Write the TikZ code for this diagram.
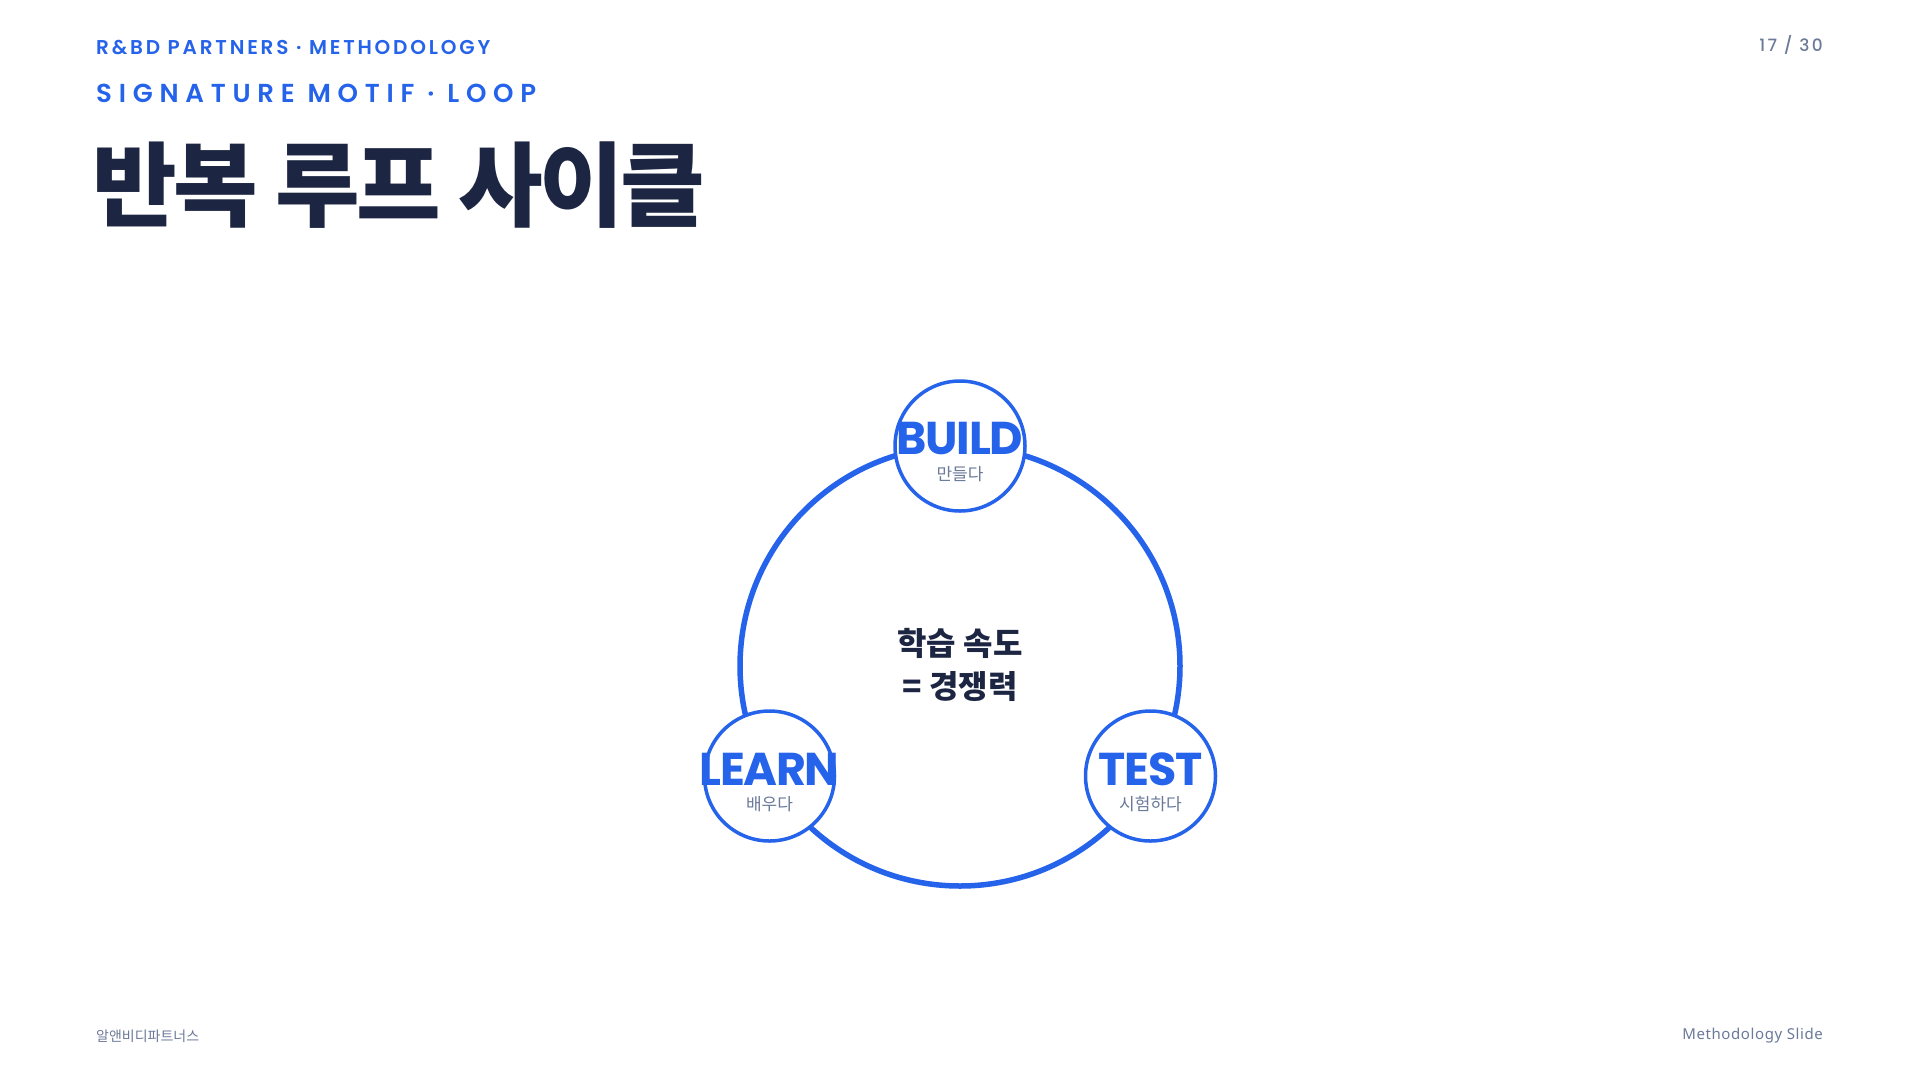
\documentclass[tikz,border=0pt]{standalone}
\usepackage{fontspec}
\setmainfont{Poppins}
\newfontfamily\hdrfont{Poppins SemiBold}[LetterSpace=14]
\newfontfamily\subfont{Poppins SemiBold}[LetterSpace=26]
\newfontfamily\pagefont{Poppins Medium}[LetterSpace=14]
\newfontfamily\labfont{Poppins Bold}[LetterSpace=-3]
\newfontfamily\krfont{Noto Sans CJK KR}
\newfontfamily\krheavy{Noto Sans CJK KR Black}
\newfontfamily\krblack{Noto Sans CJK KR Black}[LetterSpace=-4]
\newfontfamily\footfont{Noto Sans}[LetterSpace=4]
\definecolor{brand}{HTML}{2563EB}
\definecolor{ink}{HTML}{1C2541}
\definecolor{muted}{HTML}{6B7A99}
\tikzset{
  ring/.style={draw=brand, line width=5.5pt},
  stage/.style={circle, draw=brand, line width=3.5pt, fill=white, minimum size=130pt, inner sep=0pt},
  lab/.style={text=brand, font=\labfont\fontsize{46}{46}\selectfont, inner sep=0pt},
  sublab/.style={text=muted, font=\krfont\fontsize{17}{20}\selectfont, inner sep=0pt},
}
\begin{document}
\begin{tikzpicture}[x=1pt, y=-1pt]
\useasboundingbox (0,0) rectangle (1920,1080);
\fill[white] (0,0) rectangle (1920,1080);
% header
\node[anchor=west, inner sep=0, text=brand, font=\hdrfont\fontsize{20}{22}\selectfont] (hdr) at (96,47) {R\&BD PARTNERS · METHODOLOGY};
\node[anchor=west, inner sep=0, text=brand, font=\subfont\fontsize{26}{28}\selectfont] (motif) at (96,93) {SIGNATURE MOTIF · LOOP};
\node[anchor=west, inner sep=0, text=ink, font=\krblack\fontsize{92}{96}\selectfont] (title) at (92,185) {반복 루프 사이클};
\node[anchor=east, inner sep=0, text=muted, font=\pagefont\fontsize{17}{20}\selectfont] (page) at (1823,45) {17 / 30};
% ring
\coordinate (c) at (960,666);
\draw[ring] (c) circle[radius=220];
\node[stage] (build) at (960,446) {};
\node[stage] (learn) at (769.5,776) {};
\node[stage] (test) at (1150.5,776) {};
\node[lab] (buildt) at (960,439) {BUILD};
\node[sublab] (builds) at (960,474) {만들다};
\node[lab] (learnt) at (769.5,769) {LEARN};
\node[sublab] (learns) at (769.5,804) {배우다};
\node[lab] (testt) at (1150.5,769) {TEST};
\node[sublab] (tests) at (1150.5,804) {시험하다};
\node[align=center, text=ink, font=\krheavy\fontsize{32}{43}\selectfont, inner sep=0] (mid) at (960,665) {학습 속도\\= 경쟁력};
% footer
\node[anchor=west, inner sep=0, text=muted, font=\krfont\fontsize{14}{16}\selectfont] (fl) at (96,1036) {알앤비디파트너스};
\node[anchor=east, inner sep=0, text=muted, font=\footfont\fontsize{15}{18}\selectfont] (fr) at (1823,1036) {Methodology Slide};
\end{tikzpicture}
\end{document}
